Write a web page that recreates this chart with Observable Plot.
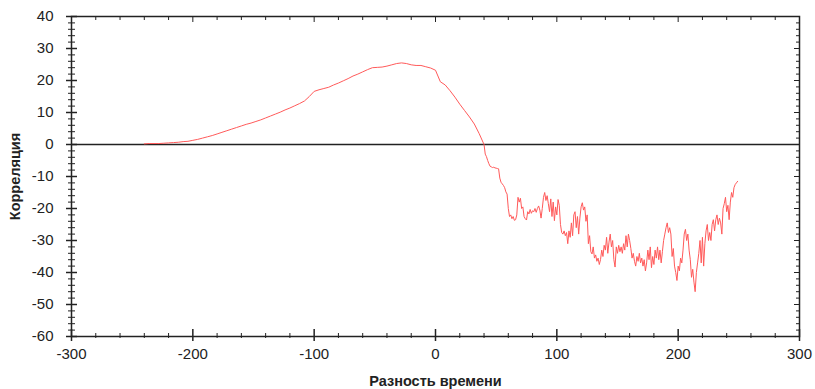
<!DOCTYPE html>
<html><head><meta charset="utf-8">
<script src="https://cdn.jsdelivr.net/npm/d3@7"></script>
<script src="https://cdn.jsdelivr.net/npm/@observablehq/plot@0.6"></script>
<style>body{margin:0;background:#fff}</style>
</head><body><div id="chart"></div>
<script>
// Smooth part: lags -240..40 step 4
const smoothLag = d3.range(-240, 41, 4);
const smoothCorr = [
  0.2, 0.3, 0.3, 0.3, 0.4, 0.5, 0.6, 0.7, 0.9, 1.0,
  1.3, 1.6, 2.0, 2.4, 2.8, 3.3, 3.8, 4.3, 4.8, 5.3,
  5.8, 6.3, 6.7, 7.2, 7.7, 8.3, 8.9, 9.5, 10.1, 10.8,
  11.4, 12.1, 12.8, 13.6, 15.0, 16.6, 17.1, 17.5, 17.9, 18.6,
  19.2, 19.9, 20.6, 21.4, 22.0, 22.7, 23.4, 24.0, 24.1, 24.2,
  24.5, 24.9, 25.3, 25.5, 25.3, 24.9, 24.7, 24.7, 24.3, 23.9,
  23.2, 19.6, 18.6, 16.8, 14.8, 12.6, 10.6, 8.6, 6.4, 3.4,
  0.0
];
// Noisy part: lags 41..249 step 1
const noisyLag = d3.range(41, 250);
const noisyCorr = [
  -3.0, -3.8, -5.0, -6.0, -6.8, -7.0, -7.2, -7.1, -7.3, -7.4,
  -7.5, -7.6, -10.5, -11.8, -12.3, -12.8, -13.5, -14.8, -15.5, -20.0,
  -22.5, -22.0, -23.2, -22.5, -23.7, -23.5, -22.0, -16.5, -18.0, -16.8,
  -20.0, -19.5, -22.5, -23.2, -23.6, -21.0, -21.7, -20.3, -21.5, -20.7,
  -21.0, -20.0, -21.2, -20.0, -19.2, -20.5, -23.0, -20.0, -16.5, -15.0,
  -17.5, -16.0, -18.5, -21.0, -17.0, -22.5, -18.0, -23.8, -19.5, -22.0,
  -17.2, -19.0, -25.0, -27.5, -28.0, -27.0, -28.5, -27.5, -31.0, -27.0,
  -29.0, -24.5, -28.5, -22.0, -21.0, -26.0, -22.5, -28.0, -23.0, -19.5,
  -18.2, -20.5, -19.5, -24.0, -22.0, -31.0, -28.5, -33.5, -34.2, -32.0,
  -35.5, -34.5, -36.5, -35.5, -37.5, -36.0, -33.0, -35.0, -31.5, -33.0,
  -29.0, -34.0, -30.5, -28.0, -32.0, -30.0, -36.0, -38.3, -32.0, -34.0,
  -31.5, -33.5, -32.0, -34.0, -31.0, -33.0, -28.5, -32.0, -28.0, -30.0,
  -32.5, -35.5, -34.0, -36.5, -38.0, -35.0, -36.5, -34.0, -37.0, -35.5,
  -38.0, -36.0, -39.5, -37.0, -33.0, -36.0, -32.0, -38.5, -35.0, -37.5,
  -33.0, -35.5, -32.0, -36.0, -33.0, -37.0, -33.5, -30.0, -28.0, -26.0,
  -24.5, -27.5, -26.0, -28.0, -35.0, -32.5, -38.0, -40.0, -42.5, -38.0,
  -39.5, -35.5, -37.0, -33.0, -28.0, -26.5, -30.0, -28.0, -33.0, -36.0,
  -41.5, -39.0, -43.0, -46.0, -40.0, -37.0, -34.0, -30.0, -37.0, -29.0,
  -38.0, -31.0, -27.0, -25.0, -30.0, -27.5, -30.0, -25.0, -23.5, -27.0,
  -23.5, -22.0, -25.0, -23.0, -24.5, -28.0, -20.0, -18.5, -16.5, -21.0,
  -19.0, -23.5, -18.0, -15.0, -16.5, -13.5, -12.5, -12.0, -11.5
];
const xTicks = [-300, -200, -100, 0, 100, 200, 300];
const yTicks = [-60, -50, -40, -30, -20, -10, 0, 10, 20, 30, 40];
const xTitle = "Разность времени";
const yTitle = "Корреляция";

if (smoothLag.length !== smoothCorr.length || noisyLag.length !== noisyCorr.length) {
  throw new Error("length mismatch " + smoothLag.length + "/" + smoothCorr.length + " " + noisyLag.length + "/" + noisyCorr.length);
}
const series = [
  ...smoothLag.map((lag, i) => ({lag, corr: smoothCorr[i]})),
  ...noisyLag.map((lag, i) => ({lag, corr: noisyCorr[i]}))
];
const xMinor = d3.range(-300, 301, 20).filter(v => !xTicks.includes(v));
const yMinor = d3.range(-60, 41, 2).filter(v => !yTicks.includes(v));
const blank = () => "";
const ink = "#222";

const W = 815, H = 389, mL = 71, mR = 16, mT = 16, mB = 53;
const frameW = W - mL - mR;
const xMin = -300, xMax = 300;
const unitsPerPx = (xMax - xMin) / frameW;
// left-axis tick rules spanning [a, b] pixels around the left frame edge
const leftTick = (vals, a, b, sw) => Plot.ruleY(vals, {
  y: d => d, x1: xMin + a * unitsPerPx, x2: xMin + b * unitsPerPx, stroke: ink, strokeWidth: sw
});

const chart = Plot.plot({
  width: W, height: H,
  marginLeft: mL, marginRight: mR, marginTop: mT, marginBottom: mB,
  style: {fontFamily: "Arial, 'Liberation Sans', sans-serif", fontSize: "15px", background: "#fff", color: ink},
  x: {domain: [xMin, xMax], label: null},
  y: {domain: [-60, 40], label: null},
  marks: [
    Plot.ruleY([0], {stroke: ink, strokeWidth: 1.5}),
    Plot.line(series, {x: "lag", y: "corr", stroke: "#ff5a5a", strokeWidth: 1}),
    Plot.frame({stroke: ink, strokeWidth: 1.5}),
    Plot.axisY(yTicks, {anchor: "left", tickSize: 0, tickPadding: 18, tickFormat: d => String(d), label: null}),
    // right axis: inward ticks
    Plot.axisY(yMinor, {anchor: "right", tickSize: 4, dx: -4, tickFormat: blank, label: null, stroke: ink}),
    Plot.axisY(yTicks, {anchor: "right", tickSize: 6, dx: -6, tickFormat: blank, label: null, stroke: ink}),
    // bottom axis
    Plot.axisX(xMinor, {anchor: "bottom", tickSize: 5, dy: -3, tickFormat: blank, label: null, stroke: ink}),
    Plot.axisX(xTicks, {anchor: "bottom", tickSize: 12, dy: -7, tickFormat: blank, label: null, stroke: ink, strokeWidth: 1.5}),
    Plot.axisX(xTicks, {anchor: "bottom", tickSize: 0, tickPadding: 12, tickFormat: d => String(d), label: null}),
    // top axis: inward ticks
    Plot.axisX(xMinor, {anchor: "top", tickSize: 3, dy: 3, tickFormat: blank, label: null, stroke: ink}),
    Plot.axisX(xTicks, {anchor: "top", tickSize: 5, dy: 5, tickFormat: blank, label: null, stroke: ink}),
    // titles
    Plot.text([xTitle], {text: d => d, frameAnchor: "bottom", dy: 45, lineAnchor: "middle", textAnchor: "middle", fontWeight: "bold", fontSize: 14.5, fill: ink}),
    Plot.text([yTitle], {text: d => d, frameAnchor: "left", dx: -56, rotate: -90, textAnchor: "middle", lineAnchor: "middle", fontWeight: "bold", fontSize: 14.5, fill: ink}),
    // left axis: crossing ticks (drawn last)
    leftTick(yMinor, -3, 4, 1),
    leftTick(yTicks, -5, 6, 1.5)
  ]
});
document.getElementById("chart").appendChild(chart);
</script>
</body></html>
